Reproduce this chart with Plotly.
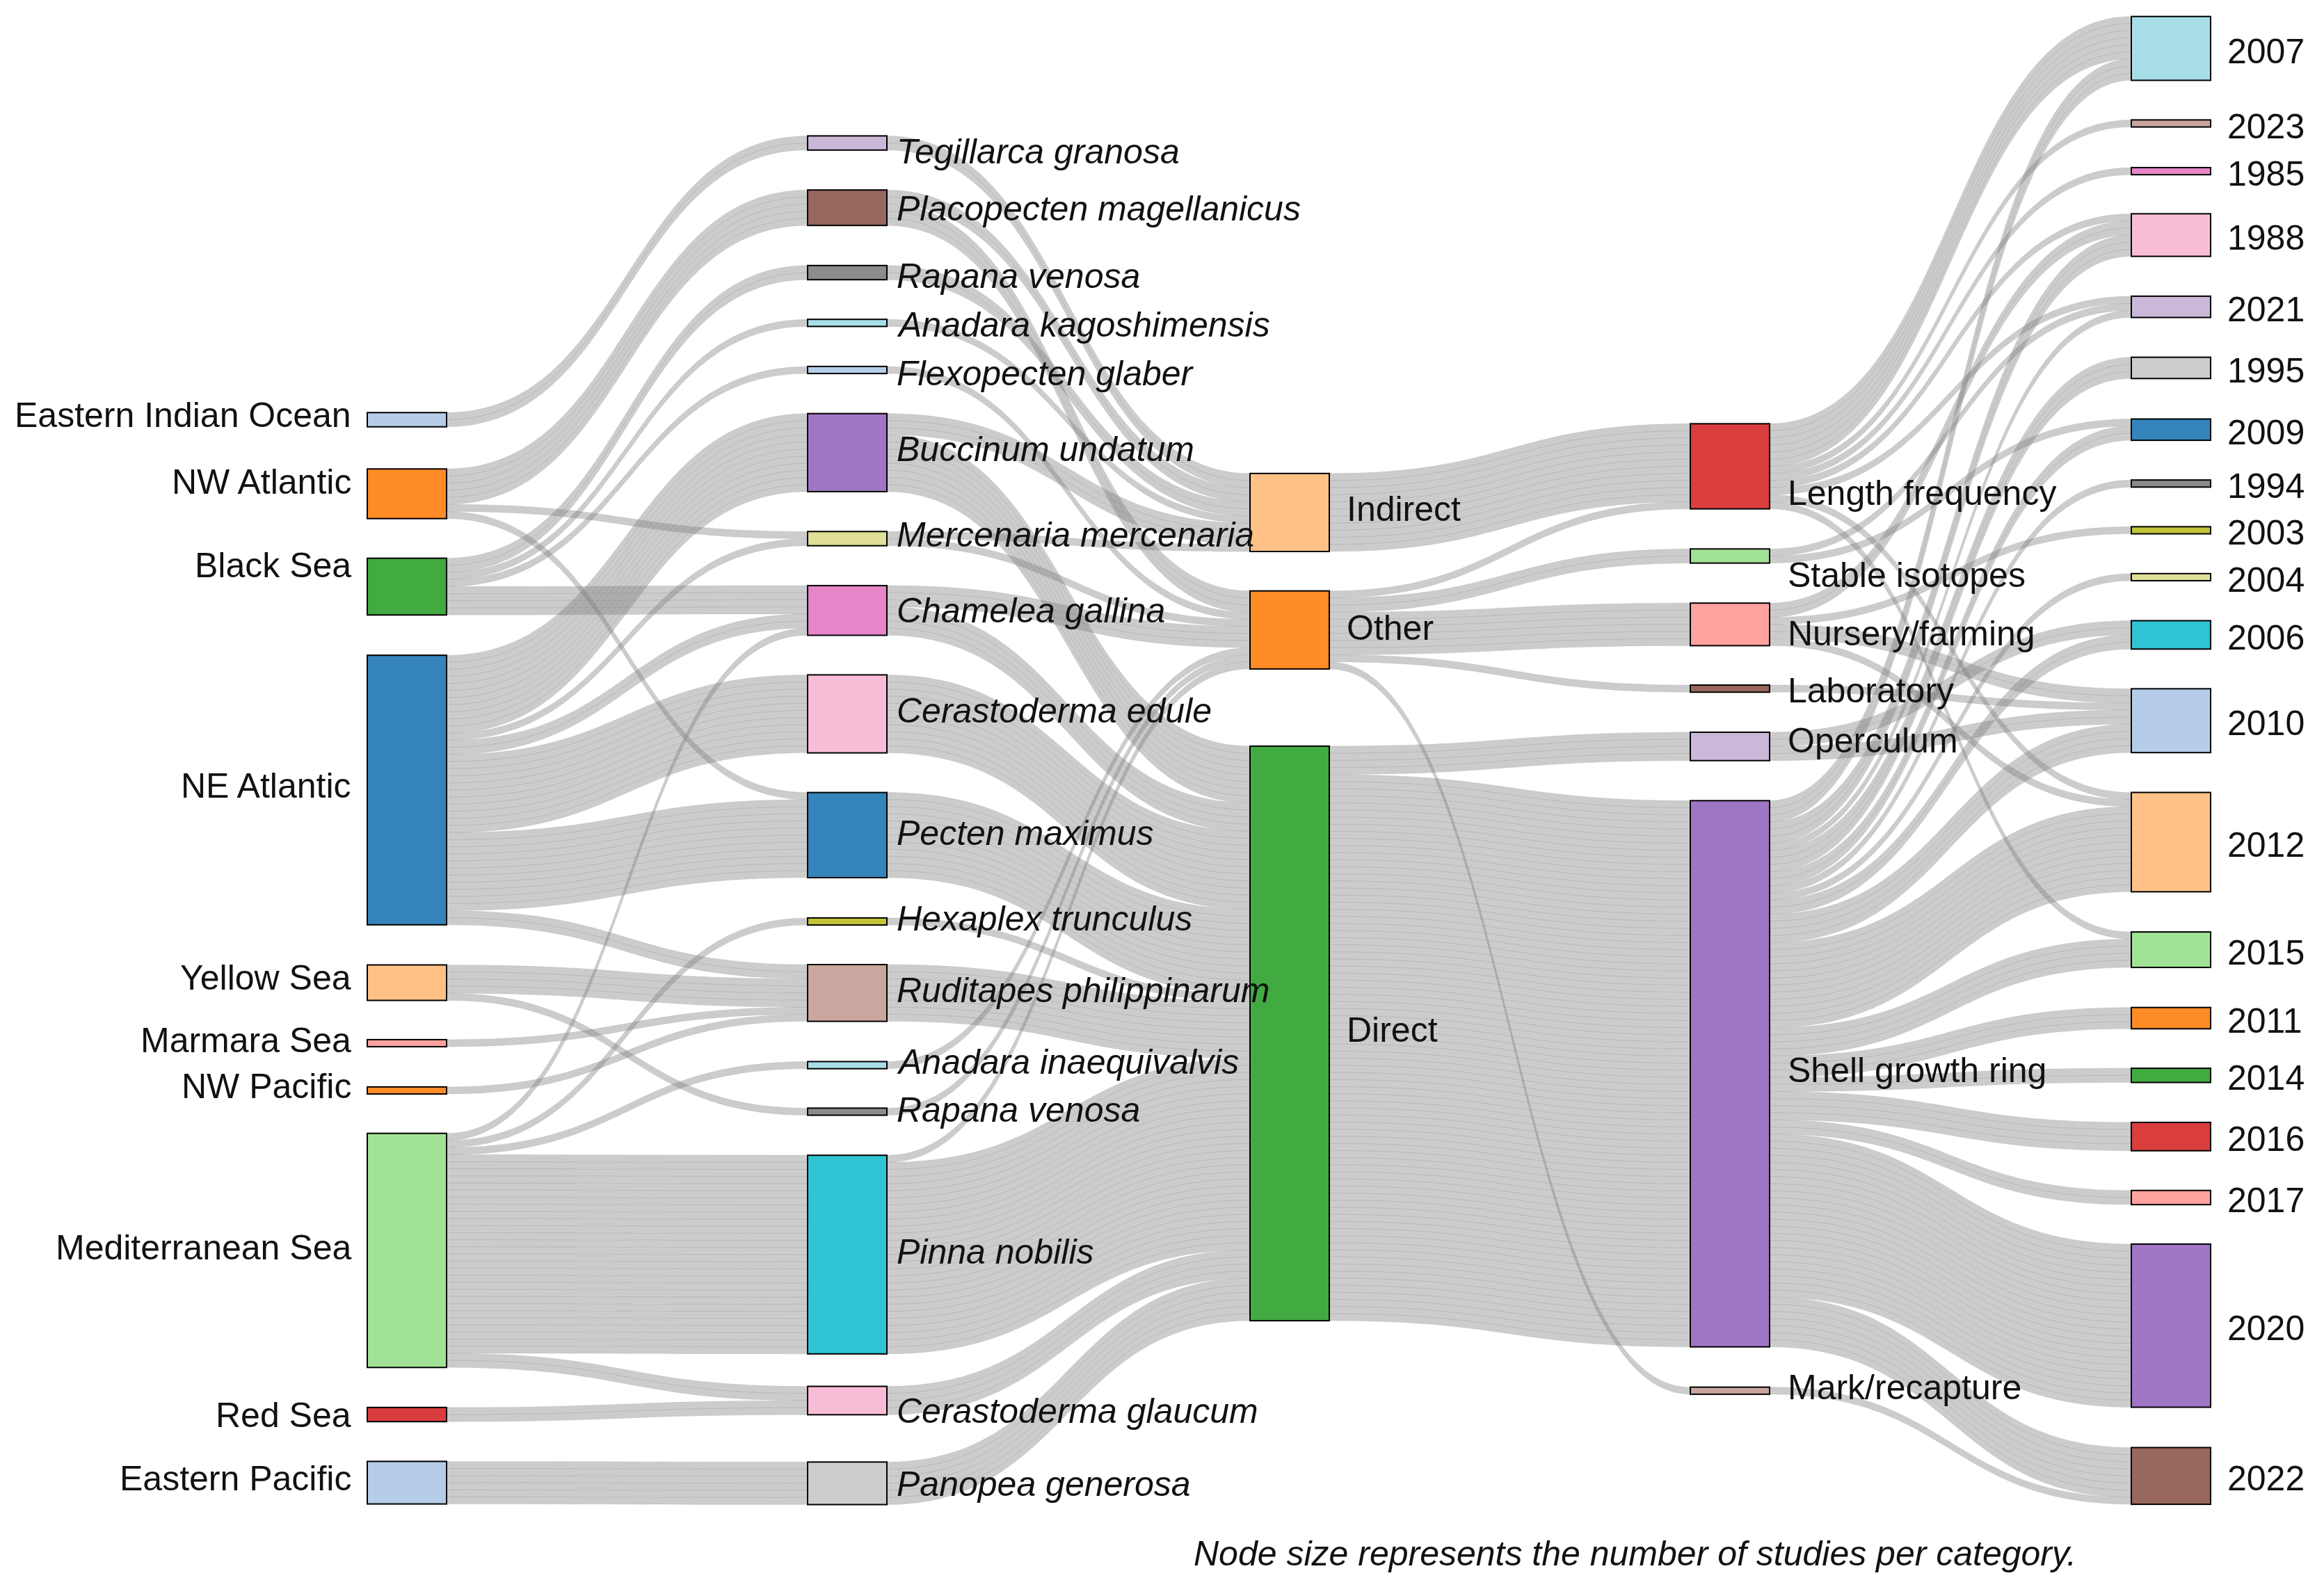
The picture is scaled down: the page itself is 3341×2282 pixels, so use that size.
import plotly.graph_objects as go

W, H = 3341, 2282

# ---------------- data ----------------
regions = ["Eastern Indian Ocean", "NW Atlantic", "Black Sea", "NE Atlantic", "Yellow Sea",
           "Marmara Sea", "NW Pacific", "Mediterranean Sea", "Red Sea", "Eastern Pacific"]

species_keys = ["Tegillarca granosa", "Placopecten magellanicus", "Rapana venosa (BS)",
                "Anadara kagoshimensis", "Flexopecten glaber", "Buccinum undatum",
                "Mercenaria mercenaria", "Chamelea gallina", "Cerastoderma edule", "Pecten maximus",
                "Hexaplex trunculus", "Ruditapes philippinarum", "Anadara inaequivalvis",
                "Rapana venosa (YS)", "Pinna nobilis", "Cerastoderma glaucum", "Panopea generosa"]
species_labels = ["Tegillarca granosa", "Placopecten magellanicus", "Rapana venosa",
                  "Anadara kagoshimensis", "Flexopecten glaber", "Buccinum undatum",
                  "Mercenaria mercenaria", "Chamelea gallina", "Cerastoderma edule", "Pecten maximus",
                  "Hexaplex trunculus", "Ruditapes philippinarum", "Anadara inaequivalvis",
                  "Rapana venosa", "Pinna nobilis", "Cerastoderma glaucum", "Panopea generosa"]

categories = ["Indirect", "Other", "Direct"]

methods = ["Length frequency", "Stable isotopes", "Nursery/farming", "Laboratory",
           "Operculum", "Shell growth ring", "Mark/recapture"]

years = ["2007", "2023", "1985", "1988", "2021", "1995", "2009", "1994", "2003", "2004",
         "2006", "2010", "2012", "2015", "2011", "2014", "2016", "2017", "2020", "2022"]

# number of studies flowing between adjacent stages
region_to_species = [
    ("Eastern Indian Ocean", "Tegillarca granosa", 2),
    ("NW Atlantic", "Placopecten magellanicus", 5),
    ("NW Atlantic", "Mercenaria mercenaria", 1),
    ("NW Atlantic", "Pecten maximus", 1),
    ("Black Sea", "Rapana venosa (BS)", 2),
    ("Black Sea", "Anadara kagoshimensis", 1),
    ("Black Sea", "Flexopecten glaber", 1),
    ("Black Sea", "Chamelea gallina", 4),
    ("NE Atlantic", "Buccinum undatum", 11),
    ("NE Atlantic", "Mercenaria mercenaria", 1),
    ("NE Atlantic", "Chamelea gallina", 2),
    ("NE Atlantic", "Cerastoderma edule", 11),
    ("NE Atlantic", "Pecten maximus", 11),
    ("NE Atlantic", "Ruditapes philippinarum", 2),
    ("Yellow Sea", "Ruditapes philippinarum", 4),
    ("Yellow Sea", "Rapana venosa (YS)", 1),
    ("Marmara Sea", "Ruditapes philippinarum", 1),
    ("NW Pacific", "Ruditapes philippinarum", 1),
    ("Mediterranean Sea", "Chamelea gallina", 1),
    ("Mediterranean Sea", "Hexaplex trunculus", 1),
    ("Mediterranean Sea", "Anadara inaequivalvis", 1),
    ("Mediterranean Sea", "Pinna nobilis", 28),
    ("Mediterranean Sea", "Cerastoderma glaucum", 2),
    ("Red Sea", "Cerastoderma glaucum", 2),
    ("Eastern Pacific", "Panopea generosa", 6),
]

species_to_category = [
    ("Tegillarca granosa", "Indirect", 2),
    ("Placopecten magellanicus", "Indirect", 2),
    ("Placopecten magellanicus", "Other", 3),
    ("Rapana venosa (BS)", "Indirect", 2),
    ("Anadara kagoshimensis", "Indirect", 1),
    ("Flexopecten glaber", "Other", 1),
    ("Buccinum undatum", "Indirect", 3),
    ("Buccinum undatum", "Direct", 8),
    ("Mercenaria mercenaria", "Indirect", 1),
    ("Mercenaria mercenaria", "Other", 1),
    ("Chamelea gallina", "Other", 3),
    ("Chamelea gallina", "Direct", 4),
    ("Cerastoderma edule", "Direct", 11),
    ("Pecten maximus", "Direct", 12),
    ("Hexaplex trunculus", "Direct", 1),
    ("Ruditapes philippinarum", "Direct", 8),
    ("Anadara inaequivalvis", "Other", 1),
    ("Rapana venosa (YS)", "Other", 1),
    ("Pinna nobilis", "Other", 1),
    ("Pinna nobilis", "Direct", 27),
    ("Cerastoderma glaucum", "Direct", 4),
    ("Panopea generosa", "Direct", 6),
]

category_to_method = [
    ("Indirect", "Length frequency", 11),
    ("Other", "Length frequency", 1),
    ("Other", "Stable isotopes", 2),
    ("Other", "Nursery/farming", 6),
    ("Other", "Laboratory", 1),
    ("Other", "Mark/recapture", 1),
    ("Direct", "Operculum", 4),
    ("Direct", "Shell growth ring", 77),
]

method_to_year = [
    ("Length frequency", "2007", 6), ("Length frequency", "2023", 1),
    ("Length frequency", "1985", 1), ("Length frequency", "1988", 1),
    ("Length frequency", "2021", 1), ("Length frequency", "2012", 1),
    ("Length frequency", "2015", 1),
    ("Stable isotopes", "2021", 1), ("Stable isotopes", "2009", 1),
    ("Nursery/farming", "1988", 2), ("Nursery/farming", "2003", 1),
    ("Nursery/farming", "2010", 2), ("Nursery/farming", "2012", 1),
    ("Laboratory", "2010", 1),
    ("Operculum", "2006", 2), ("Operculum", "2010", 2),
    ("Shell growth ring", "2007", 3), ("Shell growth ring", "1988", 3),
    ("Shell growth ring", "2021", 1), ("Shell growth ring", "1995", 3),
    ("Shell growth ring", "2009", 2), ("Shell growth ring", "1994", 1),
    ("Shell growth ring", "2004", 1), ("Shell growth ring", "2006", 2),
    ("Shell growth ring", "2010", 4), ("Shell growth ring", "2012", 12),
    ("Shell growth ring", "2015", 4), ("Shell growth ring", "2011", 3),
    ("Shell growth ring", "2014", 2), ("Shell growth ring", "2016", 4),
    ("Shell growth ring", "2017", 2), ("Shell growth ring", "2020", 23),
    ("Shell growth ring", "2022", 7),
    ("Mark/recapture", "2022", 1),
]

caption = "Node size represents the number of studies per category."

# ---------------- styling / layout (pixel positions of node centres) ----------------
col_x_px = [585, 1218, 1854, 2487, 3121]
region_y_px = [603.5, 710, 843.5, 1136, 1413, 1500, 1568, 1798, 2034, 2132]
species_y_px = [205.6, 298.7, 392, 464.3, 532, 650.8, 774.5, 877.8, 1026.5, 1200.8,
                1325, 1427.8, 1531.6, 1598.5, 1804, 2013.9, 2132.9]
category_y_px = [736.9, 905.8, 1486]
method_y_px = [670.5, 799.5, 897.8, 990.2, 1073.3, 1544, 1999.7]
year_y_px = [69.6, 177.5, 246.1, 338, 441.2, 529, 617.8, 695.3, 762.5, 829.9, 912.9,
             1036.3, 1210.9, 1365.6, 1464, 1546.3, 1634.3, 1722, 1906.2, 2122.3]

region_label_y = [597, 693, 813, 1130, 1406, 1496, 1562, 1794, 2035, 2126]
species_label_y = [217.6, 300, 396.7, 467, 536.6, 646, 768.6, 878, 1022, 1198, 1320.6,
                   1424, 1527, 1596, 1800, 2028.6, 2133.7]
category_label_y = [732, 902.6, 1481]
method_label_y = [709, 826.8, 911, 993, 1065, 1539, 1995]

T = {'blue': '#1f77b4', 'lblue': '#aec7e8', 'orange': '#ff7f0e', 'lorange': '#ffbb78',
     'green': '#2ca02c', 'lgreen': '#98df8a', 'red': '#d62728', 'lred': '#ff9896',
     'purple': '#9467bd', 'lpurple': '#c5b0d5', 'brown': '#8c564b', 'lbrown': '#c49c94',
     'pink': '#e377c2', 'lpink': '#f7b6d2', 'gray': '#7f7f7f', 'lgray': '#c7c7c7',
     'olive': '#bcbd22', 'lolive': '#dbdb8d', 'cyan': '#17becf', 'lcyan': '#9edae5'}

region_colors = ['lblue', 'orange', 'green', 'blue', 'lorange', 'lred', 'orange', 'lgreen', 'red', 'lblue']
species_colors = ['lpurple', 'brown', 'gray', 'lcyan', 'lblue', 'purple', 'lolive', 'pink', 'lpink',
                  'blue', 'olive', 'lbrown', 'lcyan', 'gray', 'cyan', 'lpink', 'lgray']
category_colors = ['lorange', 'orange', 'green']
method_colors = ['red', 'lgreen', 'lred', 'brown', 'lpurple', 'purple', 'lbrown']
year_colors = ['lcyan', 'lbrown', 'pink', 'lpink', 'lpurple', 'lgray', 'blue', 'gray', 'olive',
               'lolive', 'cyan', 'lblue', 'lorange', 'lgreen', 'orange', 'green', 'red', 'lred',
               'purple', 'brown']


def hex_rgb(h):
    h = h.lstrip('#')
    return [int(h[i:i + 2], 16) for i in (0, 2, 4)]


def fill(name):
    r, g, b = hex_rgb(T[name])
    a = 0.9
    return 'rgb(%d,%d,%d)' % tuple(round(a * c + (1 - a) * 255) for c in (r, g, b))


def edge(name):
    r, g, b = hex_rgb(T[name])
    return 'rgb(%d,%d,%d)' % tuple(round(c * 0.62) for c in (r, g, b))


# ---------------- build nodes ----------------
groups = [
    ("R", regions, regions, region_colors, region_y_px, 0),
    ("S", species_keys, species_labels, species_colors, species_y_px, 1),
    ("C", categories, categories, category_colors, category_y_px, 2),
    ("M", methods, methods, method_colors, method_y_px, 3),
    ("Y", years, years, year_colors, year_y_px, 4),
]
index = {}
node_x, node_y, node_fill, node_edge, node_hover = [], [], [], [], []
for g, keys, labels, cols, ys, ci in groups:
    for k, lab, c, y in zip(keys, labels, cols, ys):
        index[(g, k)] = len(node_x)
        node_x.append(col_x_px[ci] / W)
        node_y.append(y / H)
        node_fill.append(fill(c))
        node_edge.append(edge(c))
        node_hover.append(lab)

src, tgt, val = [], [], []
for (ga, gb, table) in [("R", "S", region_to_species), ("S", "C", species_to_category),
                        ("C", "M", category_to_method), ("M", "Y", method_to_year)]:
    for a, b, n in table:
        for _ in range(n):          # one strand per study
            src.append(index[(ga, a)])
            tgt.append(index[(gb, b)])
            val.append(1)

n_max = len(years)
total = sum(n for _, _, n in region_to_species)
unit_px = 10.2
pad = (H - total * unit_px) / (n_max - 1)

fig = go.Figure(go.Sankey(
    arrangement="fixed",
    domain=dict(x=[0, 1], y=[0, 1]),
    node=dict(
        label=[""] * len(node_x),
        customdata=node_hover,
        hovertemplate="%{customdata}<extra></extra>",
        x=node_x, y=node_y,
        color=node_fill,
        line=dict(color=node_edge, width=2),
        thickness=114,
        pad=pad,
    ),
    link=dict(
        source=src, target=tgt, value=val,
        color="rgba(128,128,128,0.4)",
        line=dict(color="rgba(110,110,110,0.12)", width=1),
        hoverinfo="skip",
    ),
    textfont=dict(size=1, color="rgba(0,0,0,0)"),
))

FONT = "Liberation Sans, Arial, Helvetica, sans-serif"
ann = []
half = 57
for lab, y in zip(regions, region_label_y):
    ann.append(dict(x=(col_x_px[0] - half - 21) / W, y=1 - y / H, text=lab, xanchor="right"))
for lab, y in zip(species_labels, species_label_y):
    ann.append(dict(x=(col_x_px[1] + half + 12) / W, y=1 - y / H, text="<i>%s</i>" % lab, xanchor="left"))
for lab, y in zip(categories, category_label_y):
    ann.append(dict(x=(col_x_px[2] + half + 23) / W, y=1 - y / H, text=lab, xanchor="left"))
for lab, y in zip(methods, method_label_y):
    ann.append(dict(x=(col_x_px[3] + half + 24) / W, y=1 - y / H, text=lab, xanchor="left"))
for lab, y in zip(years, year_y_px):
    ann.append(dict(x=(col_x_px[4] + half + 22) / W, y=1 - (y + 4) / H, text=lab, xanchor="left"))
for a in ann:
    a.update(xref="paper", yref="paper", yanchor="middle", showarrow=False,
             font=dict(family=FONT, size=50, color="#111111"))
ann.append(dict(x=2350 / W, y=1 - 2234 / H, xref="paper", yref="paper", text="<i>%s</i>" % caption,
                showarrow=False, xanchor="center", yanchor="middle",
                font=dict(family=FONT, size=50, color="#111111")))

fig.update_layout(
    width=W, height=H, autosize=False,
    margin=dict(l=0, r=0, t=0, b=0),
    paper_bgcolor="white", plot_bgcolor="white",
    font=dict(family=FONT, size=50),
    annotations=ann,
    showlegend=False,
)

fig.write_html("out.html", config={"displayModeBar": False},
               post_script="document.body.style.margin='0';")
